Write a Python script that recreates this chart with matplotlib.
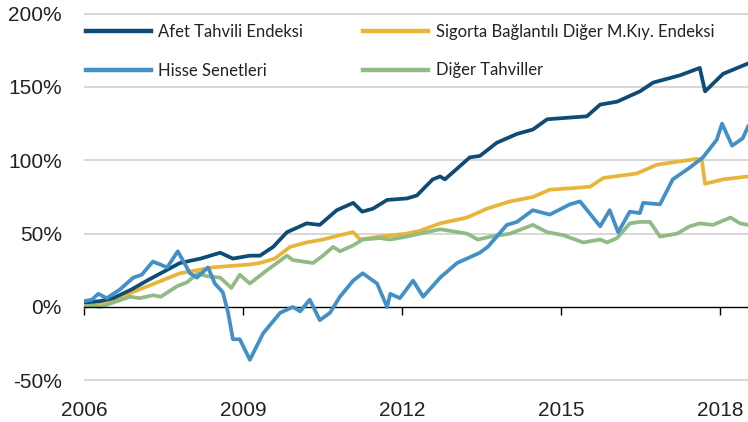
"""Cumulative returns chart: cat bonds vs other asset classes."""

import matplotlib.pyplot as plt
from matplotlib.ticker import FuncFormatter

# Series (decimal year, cumulative return in %)
afet_x = [2006.0, 2006.3, 2006.55, 2006.9, 2007.19, 2007.5, 2007.81, 2008.2, 2008.57, 2008.81,
          2009.13, 2009.32, 2009.57, 2009.83, 2010.2, 2010.45, 2010.77, 2011.08, 2011.25, 2011.45,
          2011.72, 2012.09, 2012.28, 2012.58, 2012.72, 2012.81, 2013.28, 2013.47, 2013.79, 2014.17,
          2014.47, 2014.74, 2015.11, 2015.49, 2015.74, 2016.06, 2016.49, 2016.74, 2017.25, 2017.62,
          2017.72, 2018.06, 2018.53]
afet_y = [3, 4, 6, 12, 18, 24, 30, 33, 37, 33,
          35, 35, 41, 51, 57, 56, 66, 71, 65, 67,
          73, 74, 76, 87, 89, 87, 102, 103, 112, 118,
          121, 128, 129, 130, 138, 140, 147, 153, 158, 163,
          147, 159, 166]

sigorta_x = [2006.0, 2006.55, 2007.19, 2007.81, 2008.43, 2009.13, 2009.32, 2009.6, 2009.89, 2010.2,
             2010.51, 2010.83, 2011.08, 2011.21, 2011.58, 2012.09, 2012.34, 2012.72, 2013.23, 2013.6,
             2014.04, 2014.47, 2014.79, 2015.2, 2015.55, 2015.8, 2016.43, 2016.81, 2017.57, 2017.66,
             2017.72, 2018.06, 2018.53]
sigorta_y = [0, 5, 14, 23, 27, 29, 30, 33, 41, 44,
             46, 49, 51, 46, 48, 50, 52, 57, 61, 67,
             72, 75, 80, 81, 82, 88, 91, 97, 101, 100,
             84, 87, 89]

hisse_x = [2006.0, 2006.15, 2006.27, 2006.43, 2006.68, 2006.93, 2007.09, 2007.3, 2007.57, 2007.77,
           2008.0, 2008.13, 2008.34, 2008.47, 2008.62, 2008.72, 2008.81, 2008.94, 2009.13, 2009.38,
           2009.7, 2009.94, 2010.08, 2010.26, 2010.45, 2010.64, 2010.83, 2011.08, 2011.26, 2011.53,
           2011.72, 2011.78, 2011.96, 2012.21, 2012.4, 2012.72, 2013.04, 2013.47, 2013.62, 2013.98,
           2014.17, 2014.47, 2014.79, 2015.17, 2015.36, 2015.74, 2015.92, 2016.08, 2016.3, 2016.49,
           2016.55, 2016.87, 2017.11, 2017.43, 2017.68, 2017.94, 2018.04, 2018.23, 2018.43, 2018.53]
hisse_y = [4, 5, 9, 6, 12, 20, 22, 31, 27, 38,
           23, 20, 27, 16, 10, -4, -22, -22, -36, -18,
           -4, 0, -3, 5, -9, -4, 7, 18, 23, 16,
           0, 9, 6, 18, 7, 20, 30, 37, 41, 56,
           58, 66, 63, 70, 72, 55, 66, 51, 65, 64,
           71, 70, 87, 95, 102, 114, 125, 110, 115, 123]

diger_x = [2006.0, 2006.15, 2006.3, 2006.55, 2006.87, 2007.05, 2007.3, 2007.45, 2007.75, 2007.95,
           2008.15, 2008.32, 2008.57, 2008.78, 2008.94, 2009.13, 2009.45, 2009.83, 2009.94, 2010.32,
           2010.51, 2010.7, 2010.83, 2011.08, 2011.26, 2011.58, 2011.78, 2012.09, 2012.21, 2012.72,
           2013.23, 2013.43, 2013.68, 2014.04, 2014.47, 2014.74, 2015.04, 2015.42, 2015.74, 2015.87,
           2016.06, 2016.3, 2016.49, 2016.68, 2016.87, 2017.19, 2017.43, 2017.62, 2017.87, 2018.2,
           2018.38, 2018.53]
diger_y = [0, 1, 0, 3, 7, 6, 8, 7, 14, 17,
           23, 21, 20, 13, 22, 16, 25, 35, 32, 30,
           35, 41, 38, 42, 46, 47, 46, 48, 49, 53,
           50, 46, 48, 50, 56, 51, 49, 44, 46, 44,
           47, 57, 58, 58, 48, 50, 55, 57, 56, 61,
           57, 56]

year_ticks = [2006, 2009, 2012, 2015, 2018]
pct_ticks = [-50, 0, 50, 100, 150, 200]

COLORS = {
    "afet": "#0f4c75",
    "sigorta": "#e8b53a",
    "hisse": "#4390c9",
    "diger": "#90bb84",
    "grid": "#d4d4d4",
    "text": "#222222",
}

fig = plt.figure(figsize=(7.48, 4.22), dpi=100)
ax = fig.add_axes([0.1123, 0.064, 0.8877, 0.921])

for v in pct_ticks:
    if v != 0:
        ax.axhline(v, color=COLORS["grid"], linewidth=1.3, zorder=0)

lw = 2.7
l_afet, = ax.plot(afet_x, afet_y, color=COLORS["afet"], linewidth=lw, label="Afet Tahvili Endeksi", zorder=3)
l_sig, = ax.plot(sigorta_x, sigorta_y, color=COLORS["sigorta"], linewidth=lw,
                 label="Sigorta Bağlantılı Diğer M.Kıy. Endeksi", zorder=2)
l_dig, = ax.plot(diger_x, diger_y, color=COLORS["diger"], linewidth=lw, label="Diğer Tahviller", zorder=2)
l_his, = ax.plot(hisse_x, hisse_y, color=COLORS["hisse"], linewidth=lw, label="Hisse Senetleri", zorder=3)

ax.set_xlim(2006, 2018.53)
ax.set_ylim(-60, 205)

for s in ["top", "right", "left"]:
    ax.spines[s].set_visible(False)
ax.spines["bottom"].set_position(("data", 0))
ax.spines["bottom"].set_color("black")
ax.spines["bottom"].set_linewidth(1.0)

ax.set_xticks(year_ticks)
ax.set_xticklabels([str(y) for y in year_ticks])
ax.tick_params(axis="x", direction="out", length=6, width=1, pad=62,
               labelsize=15, labelcolor=COLORS["text"])
ax.set_yticks(pct_ticks)
ax.yaxis.set_major_formatter(FuncFormatter(lambda v, p: f"{int(v)}%"))
ax.tick_params(axis="y", length=0, pad=16, labelsize=15, labelcolor=COLORS["text"])
for lab in ax.get_xticklabels() + ax.get_yticklabels():
    lab.set_fontfamily("Liberation Sans")

leg = ax.legend(handles=[l_afet, l_his, l_sig, l_dig], ncol=2, frameon=False,
                loc="upper left", bbox_to_anchor=(86 / 748, 1 - 24 / 422),
                bbox_transform=fig.transFigure, borderpad=0, borderaxespad=0,
                handlelength=3.9, handletextpad=0.45, labelspacing=1.35, columnspacing=3.6,
                prop={"family": "Lato", "size": 12})
for t in leg.get_texts():
    t.set_color(COLORS["text"])
for h in leg.get_lines():
    h.set_linewidth(3.2)

fig.savefig("out.png", dpi=100, facecolor="white")
